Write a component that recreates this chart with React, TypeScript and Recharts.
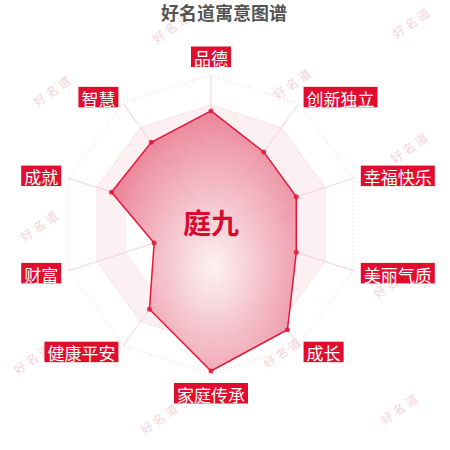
import { RadarChart, Radar, PolarGrid, PolarAngleAxis, PolarRadiusAxis } from 'recharts';

const indicators = ['品德', '创新独立', '幸福快乐', '美丽气质', '成长', '家庭传承', '健康平安', '财富', '成就', '智慧'];
const scores = [76, 60, 60, 60, 87, 98, 70, 40, 70, 68];

const chartTitle = '好名道寓意图谱';
const personName = '庭九';
const watermarkText = '好名道';

const data = indicators.map((name, i) => ({ name, score: scores[i] }));

// faint watermark spots, like the original page
const watermarks = [
    [172, 27], [412, 22], [53, 90], [293, 83], [187, 150], [410, 147],
    [40, 225], [300, 207], [157, 292], [393, 282], [33, 358], [283, 352],
    [160, 418], [400, 408],
];

const CX = 211;
const CY = 224.5;
const R = 149.5;

const renderTick = (props: any) => {
    const { x, y, textAnchor, payload } = props;
    const label: string = payload.value;
    const fs = 17;
    const w = label.length * fs + 6;
    const h = 20.5;
    let bx = x - w / 2;
    let by = y - h / 2;
    if (textAnchor === 'start') bx = x;
    if (textAnchor === 'end') bx = x - w;
    if (textAnchor === 'middle') {
        by = y < CY ? y - h : y + 1;
    }
    return (
        <g>
            <rect x={bx} y={by} width={w} height={h} fill="#e00d2e" />
            <text
                x={bx + w / 2}
                y={by + h / 2 + 1}
                textAnchor="middle"
                dominantBaseline="central"
                fill="#fff"
                fontSize={fs}
                fontFamily="'Noto Sans CJK SC', sans-serif"
            >
                {label}
            </text>
        </g>
    );
};

export default function App() {
    return (
        <div style={{ position: 'absolute', left: 0, top: 0, width: 450, height: 450, background: '#fff', overflow: 'hidden' }}>
            {watermarks.map(([wx, wy], i) => (
                <div
                    key={i}
                    style={{
                        position: 'absolute',
                        left: wx - 30,
                        top: wy - 8,
                        width: 60,
                        textAlign: 'center',
                        whiteSpace: 'nowrap',
                        fontSize: 12,
                        lineHeight: '16px',
                        color: 'rgba(232, 150, 166, 0.45)',
                        fontFamily: "'Noto Sans CJK SC', sans-serif",
                        transform: 'rotate(-35deg)',
                        letterSpacing: 3,
                    }}
                >
                    {watermarkText}
                </div>
            ))}
            <div
                style={{
                    position: 'absolute',
                    left: 0,
                    top: 2,
                    width: 448,
                    textAlign: 'center',
                    fontSize: 18,
                    fontWeight: 'bold',
                    color: '#555',
                    fontFamily: "'Noto Sans CJK SC', sans-serif",
                    lineHeight: '20px',
                }}
            >
                {chartTitle}
            </div>
            <div style={{ position: 'absolute', left: 0, top: 0 }}>
                <RadarChart width={450} height={450} data={data} cx={CX} cy={CY} outerRadius={R} startAngle={90} endAngle={-270}>
                    <defs>
                        <radialGradient id="fillGrad" cx="0.55" cy="0.6" r="0.62">
                            <stop offset="0%" stopColor="#fcf0f2" />
                            <stop offset="100%" stopColor="#e76f86" />
                        </radialGradient>
                    </defs>
                    {/* faint band between 60% and 80% */}
                    <PolarGrid
                        gridType="polygon"
                        polarRadius={[R * 0.7]}
                        radialLines={false}
                        stroke="#fdf0f2"
                        strokeWidth={R * 0.2}
                        strokeLinejoin="miter"
                    />
                    <PolarGrid
                        gridType="polygon"
                        polarRadius={[R * 0.8, R]}
                        stroke="#f2c4cd"
                        strokeDasharray="1 3"
                        radialLines={false}
                    />
                    <PolarGrid gridType="polygon" polarRadius={[]} stroke="#f4d0d7" radialLines={true} />
                    <PolarRadiusAxis domain={[0, 100]} tick={false} axisLine={false} />
                    <PolarAngleAxis dataKey="name" tick={renderTick} tickLine={false} axisLine={false} />
                    <Radar
                        dataKey="score"
                        stroke="#e3173a"
                        strokeWidth={1.5}
                        fill="url(#fillGrad)"
                        fillOpacity={0.85}
                        dot={{ r: 2.5, fill: '#e3173a', stroke: 'none' }}
                        isAnimationActive={false}
                    />
                </RadarChart>
            </div>
            <div
                style={{
                    position: 'absolute',
                    left: CX - 60,
                    top: CY - 20,
                    width: 120,
                    textAlign: 'center',
                    fontSize: 28,
                    fontWeight: 'bold',
                    color: '#d80b2f',
                    fontFamily: "'Noto Sans CJK SC', sans-serif",
                    lineHeight: '34px',
                }}
            >
                {personName}
            </div>
        </div>
    );
}
